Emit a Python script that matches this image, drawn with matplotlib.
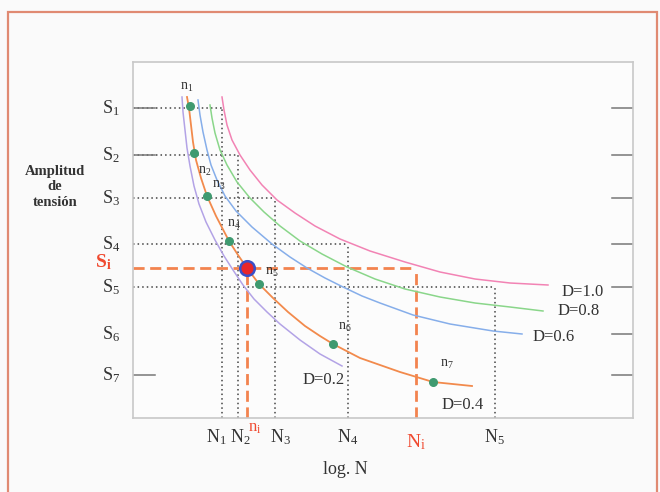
import matplotlib
matplotlib.use("Agg")
import matplotlib.pyplot as plt
from matplotlib.patches import Rectangle

plt.rcParams['font.family'] = ['Liberation Serif', 'DejaVu Serif']
plt.rcParams['mathtext.fontset'] = 'custom'
plt.rcParams['mathtext.rm'] = 'Liberation Serif'
plt.rcParams['mathtext.it'] = 'Liberation Serif:italic'
plt.rcParams['mathtext.bf'] = 'Liberation Serif:bold'

# damage curves D = 0.2 ... 1.0 (x = log N, y = stress amplitude)
d02_x = [4.9, 5.0, 5.2, 5.4, 5.7, 6.1, 6.6, 7.3, 8.2, 9.1, 10.0, 11.0, 12.1, 13.4, 14.7, 16.7, 18.7, 20.9]
d02_y = [32.1, 30.6, 28.8, 27.0, 25.2, 23.2, 21.4, 19.6, 17.8, 16.2, 14.8, 13.3, 11.9, 10.6, 9.4, 7.8, 6.4, 5.2]
d04_x = [5.4, 5.6, 5.8, 6.0, 6.3, 6.8, 7.4, 8.3, 9.6, 10.5, 11.4, 12.6, 14.0, 15.5, 17.2, 18.7, 20.0, 22.7, 26.7, 30.0, 33.9]
d04_y = [32.1, 31.0, 29.3, 27.6, 25.8, 24.0, 22.2, 20.2, 17.7, 16.3, 15.0, 13.4, 12.0, 10.6, 9.2, 8.2, 7.4, 6.0, 4.6, 3.6, 3.2]
d06_x = [6.5, 6.7, 7.0, 7.4, 7.8, 8.4, 9.2, 10.3, 11.9, 13.9, 15.7, 17.4, 19.2, 21.0, 22.9, 24.7, 28.0, 31.7, 36.0, 38.9]
d06_y = [31.8, 30.3, 28.6, 26.8, 25.3, 23.8, 22.2, 20.7, 19.1, 17.4, 16.1, 15.0, 14.0, 13.1, 12.2, 11.5, 10.3, 9.4, 8.7, 8.4]
d08_x = [7.7, 7.9, 8.2, 8.7, 9.4, 10.4, 11.7, 13.1, 14.7, 16.7, 18.9, 21.4, 24.2, 27.2, 30.7, 34.2, 37.7, 41.0]
d08_y = [31.3, 30.0, 28.5, 26.8, 25.3, 23.6, 22.0, 20.6, 19.2, 17.7, 16.4, 15.1, 13.9, 12.9, 12.1, 11.5, 11.1, 10.7]
d10_x = [8.9, 9.1, 9.4, 9.9, 10.7, 11.7, 12.9, 14.4, 16.2, 18.2, 20.7, 23.7, 27.2, 30.7, 34.2, 37.7, 41.5]
d10_y = [32.1, 30.8, 29.3, 27.8, 26.3, 24.8, 23.3, 21.8, 20.5, 19.2, 17.9, 16.7, 15.6, 14.6, 13.9, 13.5, 13.3]

# load blocks n1..n7 on the D=0.4 curve
n_x = [5.7, 6.1, 7.4, 9.6, 12.6, 20.0, 30.0]
n_y = [31.2, 26.5, 22.2, 17.7, 13.4, 7.4, 3.6]

# stress levels S1..S7 and cycles to failure N1..N5
s_levels = [31.0, 26.3, 22.0, 17.4, 13.1, 8.4, 4.3]
n_cycles = [8.9, 10.5, 14.2, 21.5, 36.2]
n_label_x = [8.3, 10.7, 14.8, 21.5, 36.1]

s_i = 15.0
n_i = 28.3
ni_x = 11.4

fig = plt.figure(figsize=(6.6, 4.92), dpi=100, facecolor='#fafafa')
fig.patches.append(Rectangle((8 / 660, -0.1), 649 / 660, 1.1 - 12 / 492,
                             transform=fig.transFigure, fill=False,
                             edgecolor='#e08a72', linewidth=1.6))

ax = fig.add_axes([133 / 660, 74 / 492, 500 / 660, 356 / 492])
ax.set_facecolor('#fcfcfc')
ax.set_xlim(0, 50)
ax.set_ylim(0, 35.6)
ax.set_xticks([])
ax.set_yticks([])
for sp in ax.spines.values():
    sp.set_color('#c8c8c8')
    sp.set_linewidth(1.2)

dot_kw = dict(color='#444444', linestyle=(0, (1, 2)), linewidth=1.1, zorder=2)

# dotted construction lines S_k -> N_k
for s, n in zip(s_levels[:5], n_cycles):
    ax.plot([0, n], [s, s], **dot_kw)
    ax.plot([n, n], [0, s], **dot_kw)

# current stress / cycles (dashed orange)
dash_kw = dict(color='#f3834f', linestyle=(0, (4, 2)), linewidth=2.0, zorder=2)
ax.plot([0, n_i], [s_i, s_i], **dash_kw)
ax.plot([n_i, n_i], [0, s_i], **dash_kw)
ax.plot([ni_x, ni_x], [0, s_i], **dash_kw)

# curves
ax.plot(d02_x, d02_y, color='#b3a3e6', linewidth=1.1, zorder=3)
ax.plot(d04_x, d04_y, color='#f28a4c', linewidth=1.3, zorder=3)
ax.plot(d06_x, d06_y, color='#86aeea', linewidth=1.1, zorder=3)
ax.plot(d08_x, d08_y, color='#8ad68a', linewidth=1.1, zorder=3)
ax.plot(d10_x, d10_y, color='#f283b4', linewidth=1.1, zorder=3)

ax.scatter(n_x, n_y, s=30, color='#3f9a70', zorder=5)
ax.scatter([ni_x], [s_i], s=110, color='#e8262a', edgecolors='#3a4fc8',
           linewidths=1.8, zorder=6)

# tick marks on the right, short ones on the left
for s in s_levels:
    ax.plot([47.9, 50], [s, s], color='#777777', linewidth=1.1, zorder=2)
for s in [s_levels[0], s_levels[1], s_levels[6]]:
    ax.plot([0, 2.2], [s, s], color='#777777', linewidth=1.1, zorder=2)

txt = '#333333'
n_offsets = [(-1.0, 1.2), (0.4, -1.2), (0.5, 0.4), (-0.2, 1.0), (0.6, 0.5),
             (0.5, 1.0), (0.7, 1.1)]
for k, (x, y) in enumerate(zip(n_x, n_y)):
    dx, dy = n_offsets[k]
    ax.text(x + dx, y + dy, r'$\mathrm{n}_{%d}$' % (k + 1), fontsize=10,
            color=txt, ha='left', va='bottom' if dy > 0 else 'top', zorder=7)

# D labels
ax.text(42.9, 12.6, 'D=1.0', fontsize=12, color=txt, va='center')
ax.text(42.5, 10.7, 'D=0.8', fontsize=12, color=txt, va='center')
ax.text(40.0, 8.1, 'D=0.6', fontsize=12, color=txt, va='center')
ax.text(17.0, 3.8, 'D=0.2', fontsize=12, color=txt, va='center')
ax.text(30.9, 1.3, 'D=0.4', fontsize=12, color=txt, va='center')

# axis annotations
for k, s in enumerate(s_levels):
    ax.text(-1.3, s, r'$\mathrm{S}_{%d}$' % (k + 1), fontsize=13, color=txt,
            ha='right', va='center')
ax.text(-2.1, s_i + 0.6, r'$\mathbf{S}_{\mathbf{i}}$', fontsize=14,
        color='#f04a30', ha='right', va='center')

for k, x in enumerate(n_label_x):
    ax.text(x, -1.9, r'$\mathrm{N}_{%d}$' % (k + 1), fontsize=13, color=txt,
            ha='center', va='center')
ax.text(n_i, -2.4, r'$\mathrm{N}_{\mathrm{i}}$', fontsize=14, color='#f04a30',
        ha='center', va='center')
ax.text(ni_x + 0.8, -1.0, r'$\mathrm{n}_{\mathrm{i}}$', fontsize=12,
        color='#f04a30', ha='center', va='center')

fig.text(345 / 660, 1 - 470 / 492, 'log. N', fontsize=13, color=txt,
         ha='center', va='center')
fig.text(55 / 660, 1 - 187 / 492, 'Amplitud\nde\ntensión', fontsize=10.5,
         color=txt, ha='center', va='center', fontweight='bold', linespacing=1.25)

fig.savefig('out.png', dpi=100, facecolor=fig.get_facecolor())
